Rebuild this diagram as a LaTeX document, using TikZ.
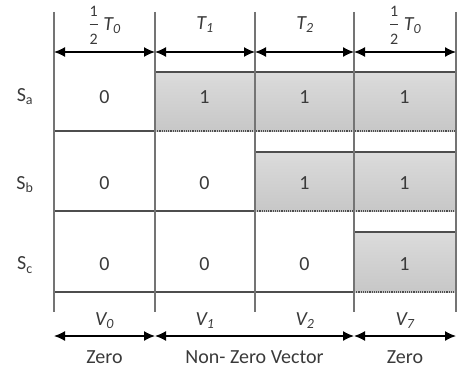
\documentclass[tikz,border=0pt]{standalone}
\usepackage{amsmath}
\usepackage{fontspec}
\setmainfont{Carlito}
\usetikzlibrary{arrows.meta}
\definecolor{wavegray}{HTML}{4D4D4D}
\definecolor{gridgray}{HTML}{747474}
\definecolor{textgray}{HTML}{3A3A3A}
\tikzset{
  hi/.style={top color=black!14,bottom color=black!22,draw=none},
  wave/.style={wavegray,line width=1.5pt},
  low/.style={wavegray,line width=1.2pt,densely dotted},
  grid/.style={gridgray,line width=1.7pt},
  span/.style={<->,black,line width=1.4pt},
  lbl/.style={textgray,inner sep=1pt}
}
\newcommand{\fr}[1]{\text{\fontsize{16}{16}\selectfont #1}}
\newcommand{\halfT}{$\dfrac{\fr{1}}{\fr{2}}$ \textit{T\textsubscript{0}}}
\begin{document}
\begin{tikzpicture}[x=1pt,y=-1pt,font=\fontsize{20}{24}\selectfont,line join=round,>={Latex[length=11pt,width=10pt]}]
	\useasboundingbox (0,0) rectangle (457,369);
	% high levels
	\fill[hi] (155,72) rectangle (456,131);
	\fill[hi] (255,152) rectangle (456,211);
	\fill[hi] (354,232) rectangle (456,292);
	\draw[low] (155,131) -- (456,131) (255,211) -- (456,211) (354,292) -- (456,292);
	% switching waveforms
	\draw[wave] (54,131) -- (155,131) -- (155,72) -- (456,72);
	\draw[wave] (54,211) -- (255,211) -- (255,152) -- (456,152);
	\draw[wave] (54,292) -- (354,292) -- (354,232) -- (456,232);
	% interval borders
	\foreach \x [count=\i from 0] in {54,155,255,354,456}{
		\draw[grid] (\x,12) -- (\x,312);
		\coordinate (t\i) at (\x,52);
		\coordinate (b\i) at (\x,336);
	}
	\foreach \i [evaluate=\i as \j using int(\i+1)] in {0,...,3}
		\draw[span] (t\i) -- (t\j);
	\draw[span] (b0) -- (b1);
	\draw[span] (b1) -- (b3);
	\draw[span] (b3) -- (b4);
	% period labels
	\node[lbl] (p0) at (104.5,25) {\halfT};
	\node[lbl] (p1) at (205,25) {\textit{T\textsubscript{1}}};
	\node[lbl] (p2) at (305,25) {\textit{T\textsubscript{2}}};
	\node[lbl] (p3) at (405,25) {\halfT};
	\node[lbl] (v0) at (104.5,321) {\textit{V\textsubscript{0}}};
	\node[lbl] (v1) at (205,321) {\textit{V\textsubscript{1}}};
	\node[lbl] (v2) at (305,321) {\textit{V\textsubscript{2}}};
	\node[lbl] (v7) at (405,321) {\textit{V\textsubscript{7}}};
	\node[lbl] (z0) at (104.5,357) {Zero};
	\node[lbl] (nz) at (254.5,357) {Non- Zero Vector};
	\node[lbl] (z7) at (405,357) {Zero};
	% switch states
	\node[lbl] (sa) at (25,97) {S\textsubscript{a}};
	\node[lbl] (sb) at (25,185) {S\textsubscript{b}};
	\node[lbl] (sc) at (25,265) {S\textsubscript{c}};
	\foreach \v [count=\i] in {0,1,1,1} \node[lbl] (a\i) at (4.5+100*\i,97) {\v};
	\foreach \v [count=\i] in {0,0,1,1} \node[lbl] (b\i) at (4.5+100*\i,183) {\v};
	\foreach \v [count=\i] in {0,0,0,1} \node[lbl] (c\i) at (4.5+100*\i,264) {\v};
\end{tikzpicture}
\end{document}
